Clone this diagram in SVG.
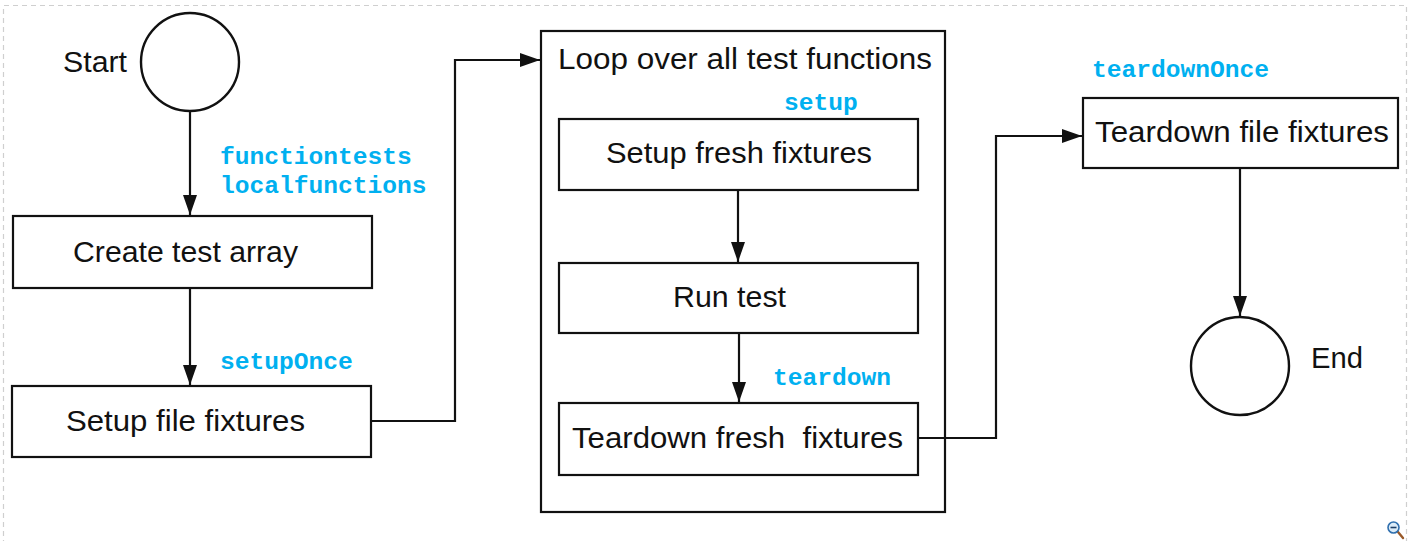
<svg xmlns="http://www.w3.org/2000/svg" width="1412" height="541" viewBox="0 0 1412 541">
  <style>
    .box { fill: #ffffff; stroke: #111111; stroke-width: 2.2; }
    .term { fill: #ffffff; stroke: #111111; stroke-width: 2.4; }
    .lbl { font-family: "Liberation Sans", Arial, sans-serif; font-size: 30px; fill: #111111; }
    .code { font-family: "Liberation Mono", "Courier New", monospace; font-size: 24.6px; font-weight: bold; fill: #00B0F0; }
    .conn { fill: none; stroke: #111111; stroke-width: 2.2; }
    .frame { fill: none; stroke: #cfcfcf; stroke-width: 1.2; stroke-dasharray: 5 4; }
  </style>
  <defs>
    <marker id="arrow" markerUnits="userSpaceOnUse" markerWidth="20" markerHeight="14" refX="20" refY="7" orient="auto">
      <path d="M0,0 L20,7 L0,14 Z" fill="#111111"/>
    </marker>
  </defs>

  <rect width="1412" height="541" fill="#ffffff"/>
  <g id="frame">
    <path class="frame" d="M3.5,545 L3.5,5.5 L1406.5,5.5 L1406.5,545"/>
  </g>

  <g id="loop">
    <rect class="box" x="541" y="31" width="404" height="481"/>
    <text class="lbl" x="558" y="69" textLength="374" lengthAdjust="spacingAndGlyphs">Loop over all test functions</text>
  </g>

  <g id="start">
    <circle class="term" cx="190" cy="62" r="49"/>
    <text class="lbl" x="63" y="72" textLength="64" lengthAdjust="spacingAndGlyphs">Start</text>
  </g>

  <g id="create">
    <rect class="box" x="13" y="216" width="359" height="72"/>
    <text class="lbl" x="73" y="262" textLength="225" lengthAdjust="spacingAndGlyphs">Create test array</text>
  </g>

  <g id="setupfile">
    <rect class="box" x="12" y="386" width="359" height="71"/>
    <text class="lbl" x="66" y="431" textLength="239" lengthAdjust="spacingAndGlyphs">Setup file fixtures</text>
  </g>

  <g id="setupfresh">
    <rect class="box" x="559" y="119" width="359" height="71"/>
    <text class="lbl" x="606" y="163" textLength="266" lengthAdjust="spacingAndGlyphs">Setup fresh fixtures</text>
  </g>

  <g id="runtest">
    <rect class="box" x="559" y="263" width="359" height="70"/>
    <text class="lbl" x="673" y="307" textLength="113" lengthAdjust="spacingAndGlyphs">Run test</text>
  </g>

  <g id="teardownfresh">
    <rect class="box" x="559" y="403" width="359" height="72"/>
    <text class="lbl" x="572" y="448" textLength="331" lengthAdjust="spacingAndGlyphs" xml:space="preserve">Teardown fresh  fixtures</text>
  </g>

  <g id="teardownfile">
    <rect class="box" x="1083" y="98" width="315" height="70"/>
    <text class="lbl" x="1095" y="142" textLength="294" lengthAdjust="spacingAndGlyphs">Teardown file fixtures</text>
  </g>

  <g id="end">
    <circle class="term" cx="1240" cy="366" r="49"/>
    <text class="lbl" x="1311" y="368" textLength="52" lengthAdjust="spacingAndGlyphs">End</text>
  </g>

  <g id="connectors">
    <line class="conn" x1="190" y1="111" x2="190" y2="215" marker-end="url(#arrow)"/>
    <line class="conn" x1="190" y1="288" x2="190" y2="385" marker-end="url(#arrow)"/>
    <polyline class="conn" points="371,421 455,421 455,60 540,60" marker-end="url(#arrow)"/>
    <line class="conn" x1="738" y1="190" x2="738" y2="262" marker-end="url(#arrow)"/>
    <line class="conn" x1="739" y1="333" x2="739" y2="402" marker-end="url(#arrow)"/>
    <polyline class="conn" points="918,438 996,438 996,136 1082,136" marker-end="url(#arrow)"/>
    <line class="conn" x1="1240" y1="168" x2="1240" y2="316" marker-end="url(#arrow)"/>
  </g>

  <g id="labels">
    <text class="code" x="220" y="164">functiontests</text>
    <text class="code" x="220" y="193">localfunctions</text>
    <text class="code" x="220" y="369">setupOnce</text>
    <text class="code" x="784" y="110">setup</text>
    <text class="code" x="773" y="385">teardown</text>
    <text class="code" x="1092" y="77">teardownOnce</text>
  </g>

  <g id="zoom-icon">
    <line x1="1398" y1="532" x2="1403" y2="538" stroke="#9a5a2a" stroke-width="2.4" stroke-linecap="round"/>
    <circle cx="1393.5" cy="527.5" r="5.5" fill="#dcecf8" stroke="#2f6fae" stroke-width="1.6"/>
    <line x1="1390.5" y1="527.5" x2="1396.5" y2="527.5" stroke="#1d3f66" stroke-width="1.6"/>
  </g>
</svg>
